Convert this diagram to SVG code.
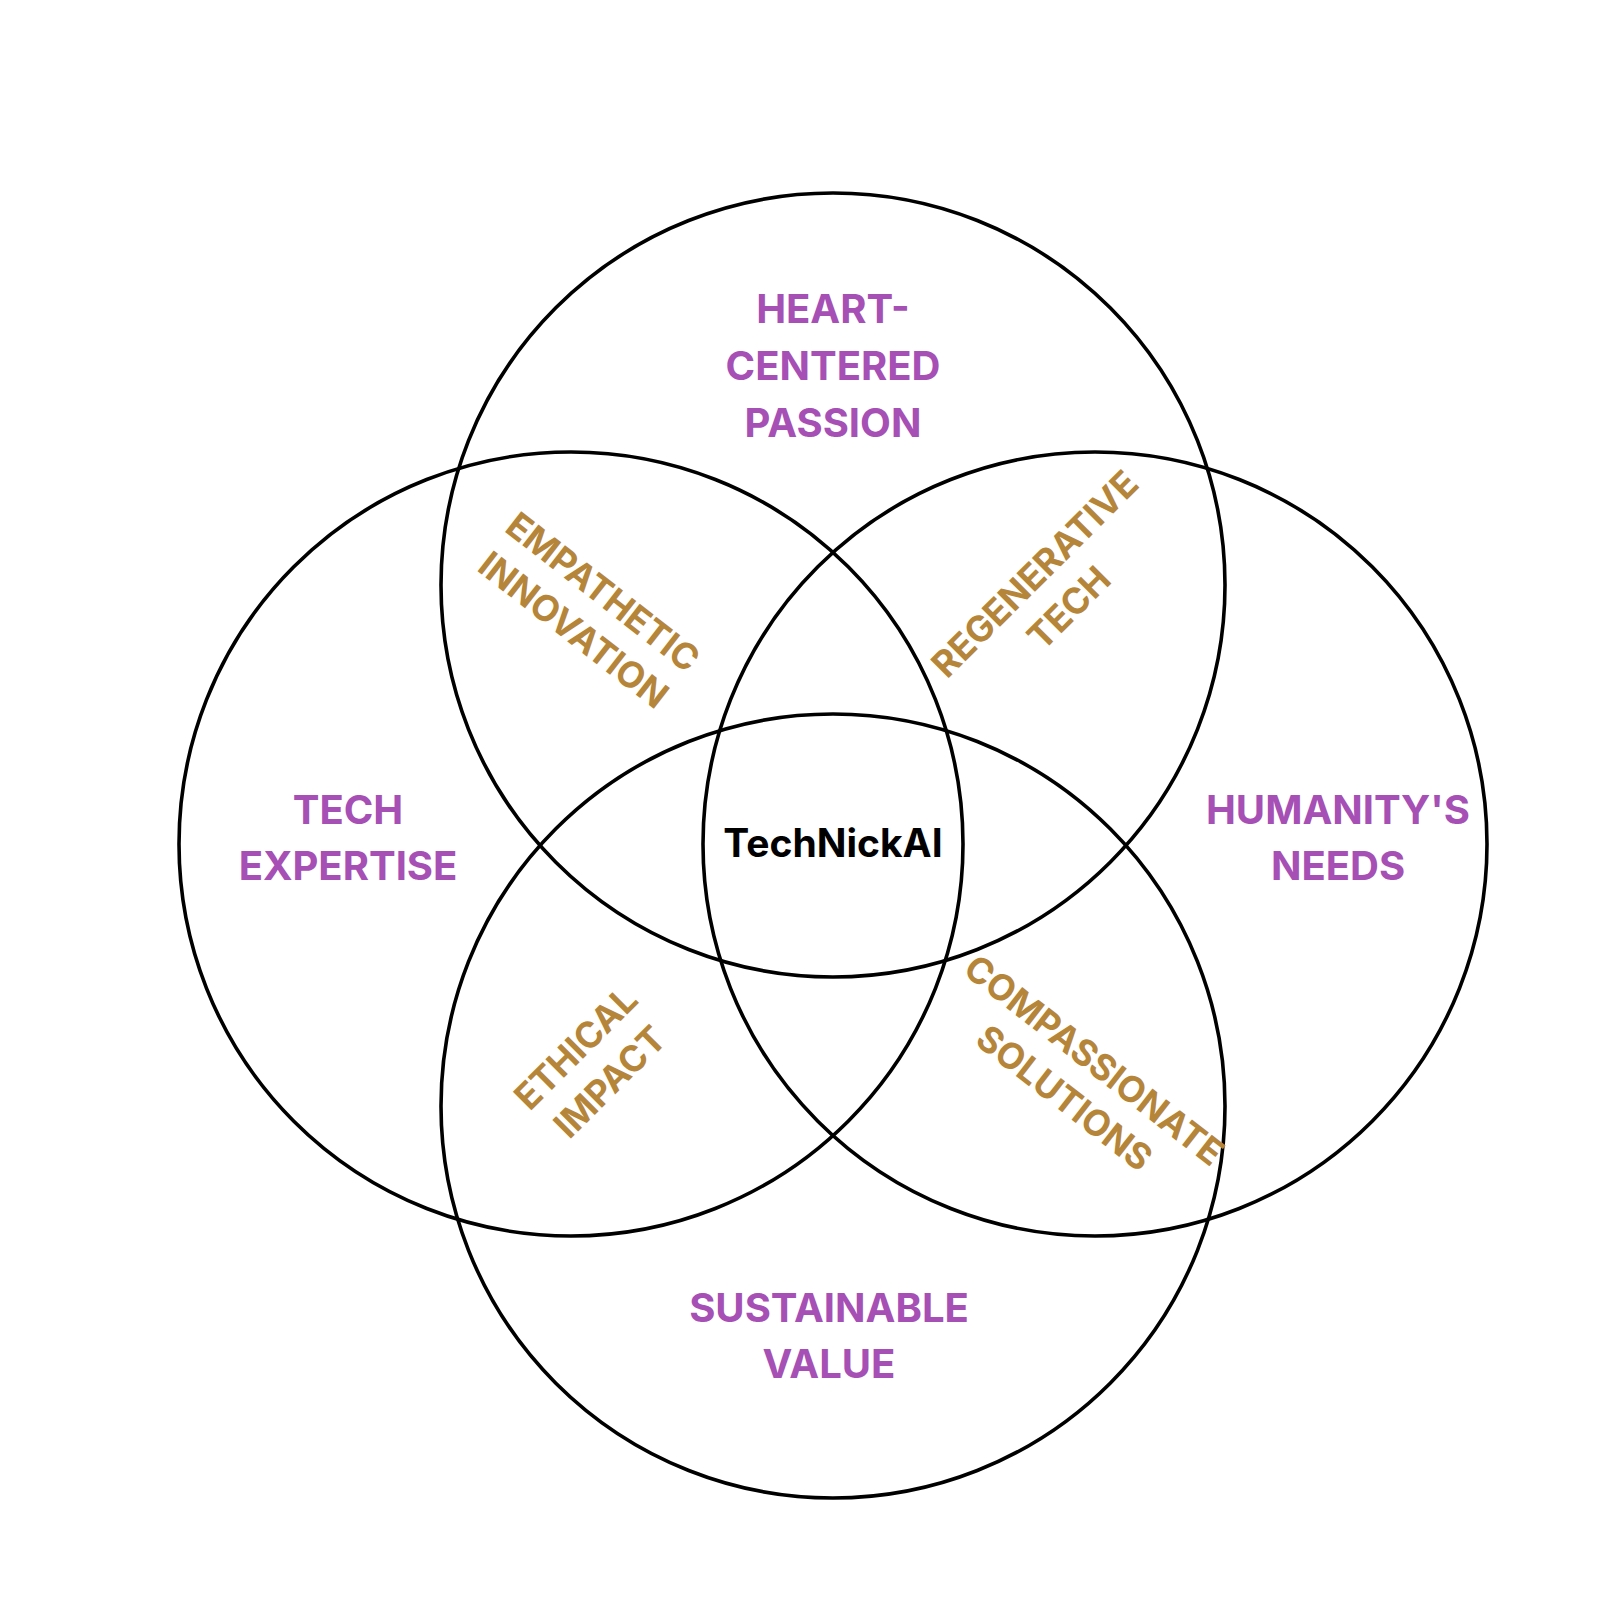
<svg xmlns="http://www.w3.org/2000/svg" width="1620" height="1620" viewBox="0 0 1620 1620">
<style>
.c{fill:none;stroke:#000;stroke-width:3.6}
.p{font-family:Inter,"Open Sans",sans-serif;font-weight:700;font-size:40px;fill:#a64fb5;text-anchor:middle}
.g{font-family:Inter,"Open Sans",sans-serif;font-weight:700;font-size:36px;fill:#b5853a;text-anchor:middle}
.b{font-family:Inter,"Open Sans",sans-serif;font-weight:700;font-size:39px;fill:#000;text-anchor:middle}
</style>
<rect width="1620" height="1620" fill="#fff"/>
<g id="circles">
<circle id="top" class="c" cx="833" cy="585" r="392"/>
<circle id="left" class="c" cx="571" cy="844" r="392"/>
<circle id="right" class="c" cx="1095" cy="844" r="392"/>
<circle id="bottom" class="c" cx="833" cy="1106" r="392"/>
</g>
<g id="labels">
<text class="p" x="833" y="323">HEART-</text>
<text class="p" x="833" y="380">CENTERED</text>
<text class="p" x="833" y="437">PASSION</text>
<text class="p" x="348" y="824">TECH</text>
<text class="p" x="348" y="880">EXPERTISE</text>
<text class="p" x="1338" y="824">HUMANITY'S</text>
<text class="p" x="1338" y="880">NEEDS</text>
<text class="p" x="829" y="1322">SUSTAINABLE</text>
<text class="p" x="829" y="1378">VALUE</text>
<text class="b" x="833" y="857">TechNickAI</text>
<g transform="translate(589,610) rotate(38)"><text class="g" x="0" y="-10">EMPATHETIC</text><text class="g" x="0" y="38">INNOVATION</text></g>
<g transform="translate(1051,590) rotate(-45)"><text class="g" x="0" y="-10">REGENERATIVE</text><text class="g" x="0" y="38">TECH</text></g>
<g transform="translate(592,1064) rotate(-45)"><text class="g" x="0" y="-10">ETHICAL</text><text class="g" x="0" y="38">IMPACT</text></g>
<g transform="translate(1080,1078) rotate(38)"><text class="g" x="0" y="-10">COMPASSIONATE</text><text class="g" x="0" y="38">SOLUTIONS</text></g>
</g>
</svg>
